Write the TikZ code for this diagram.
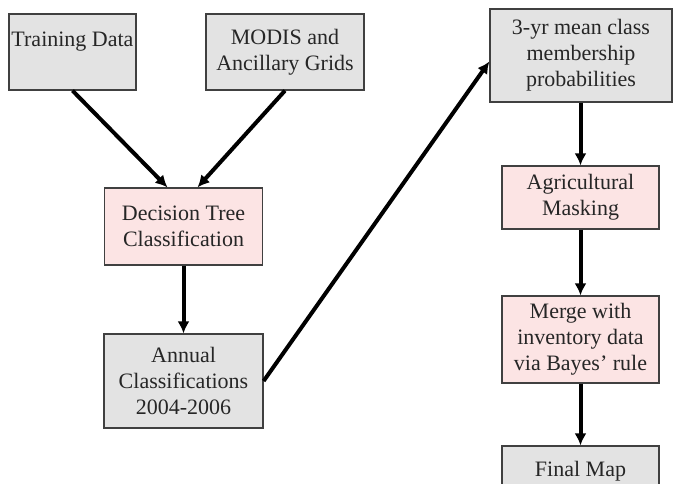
\documentclass[tikz,border=0pt]{standalone}
\usepackage{fontspec}
\setmainfont{Liberation Serif}
\usetikzlibrary{arrows.meta}
\definecolor{boxGray}{HTML}{E3E3E3}
\definecolor{boxPink}{HTML}{FCE4E4}
\definecolor{boxLine}{HTML}{404040}
\definecolor{boxText}{HTML}{262626}

\begin{document}
\begin{tikzpicture}[x=1pt,y=-1pt,
                    baseND/.style={rectangle,
                                   draw=boxLine,
                                   line width=1.2pt,
                                   inner sep=0pt,
                                   align=center,
                                   text=boxText,
                                   font=\fontsize{22}{26}\selectfont},
                    grayND/.style={baseND, fill=boxGray},
                    pinkND/.style={baseND, fill=boxPink},
                    flowArr/.style={-{Latex[length=12pt,width=12pt]},
                                    line width=4pt,
                                    black}]
            \useasboundingbox (0,0) rectangle (674,483);
            \node[grayND, minimum width=127pt, minimum height=76pt](train) at (72.5,52)
                {Training Data\\ ~};
            \node[grayND, minimum width=158pt, minimum height=76pt](modis) at (285,52)
                {MODIS and\\Ancillary Grids};
            \node[pinkND, minimum width=158pt, minimum height=77pt](tree)  at (183.5,226.5)
                {Decision Tree\\Classification};
            \node[grayND, minimum width=159pt, minimum height=94pt](annual) at (183.5,381)
                {Annual\\Classifications\\2004-2006};
            \node[grayND, minimum width=182pt, minimum height=93pt](mean)  at (581,55.5)
                {3-yr mean class\\membership\\probabilities};
            \node[pinkND, minimum width=157pt, minimum height=63pt](mask)  at (580.5,197.5)
                {Agricultural\\Masking};
            \node[pinkND, minimum width=157pt, minimum height=87pt](merge) at (580.5,339.5)
                {Merge with\\inventory data\\via Bayes' rule};
            \node[grayND, minimum width=157pt, minimum height=48pt, text depth=0pt](final) at (580.5,470)
                {\raisebox{3pt}{Final Map}};
            \path
                (train.south)  edge [flowArr] ([xshift=-16pt]tree.north)
                (modis.south)  edge [flowArr] ([xshift=14pt]tree.north)
                (tree.south)   edge [flowArr] (annual.north)
                (annual.east)  edge [flowArr] ([yshift=-6pt]mean.west)
                (mask.north |- mean.south) edge [flowArr] (mask.north)
                (mask.south)   edge [flowArr] (merge.north)
                (merge.south)  edge [flowArr] (final.north)
                ;
        \end{tikzpicture}
\end{document}
